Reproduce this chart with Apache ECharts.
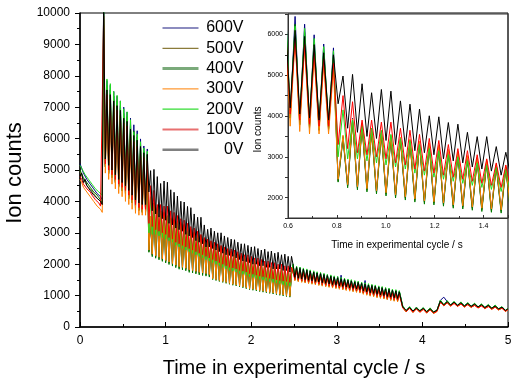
<!DOCTYPE html>
<html><head><meta charset="utf-8">
<script src="https://cdn.jsdelivr.net/npm/echarts@6/dist/echarts.min.js"></script>
<style>html,body{margin:0;padding:0;background:#fff}#c{width:511px;height:379px}</style>
</head><body><div id="c"></div>
<script>
// time in experimental cycle / s (shared by all series)
const time = [0,0.02,0.04,0.06,0.08,0.10,0.12,0.14,0.16,0.18,0.20,0.22,0.24,0.26,
0.276,0.296,0.315,0.335,0.354,0.374,0.394,0.413,0.433,0.452,0.472,0.492,0.511,0.531,0.550,0.570,0.590,0.609,0.629,0.648,0.668,0.688,0.707,0.727,0.746,0.766,0.786,
0.805,0.825,0.844,0.864,0.884,0.903,0.923,0.942,0.962,0.982,1.001,1.021,1.040,1.060,1.080,1.099,1.119,1.138,1.158,1.178,1.197,1.217,1.236,1.256,1.276,1.295,1.315,1.334,1.354,1.374,1.393,1.413,1.432,1.452,1.472,1.491,1.511,
1.530,1.550,1.570,1.589,1.609,1.628,1.648,1.668,1.687,1.707,1.726,1.746,1.766,1.785,1.805,1.824,1.844,1.864,1.883,1.903,1.922,1.942,1.962,1.981,2.001,2.020,2.040,2.060,2.079,2.099,2.118,2.138,2.158,2.177,2.197,2.216,2.236,2.256,2.275,2.295,2.314,2.334,2.354,2.373,2.393,2.412,2.432,2.452,2.471,
2.49,2.51,2.53,2.55,2.57,2.59,2.61,2.63,2.65,2.67,2.69,2.71,2.73,2.75,2.77,2.79,2.81,2.83,2.85,2.87,2.89,2.91,2.93,2.95,2.97,2.99,3.01,3.03,3.05,3.07,3.09,3.11,3.13,3.15,3.17,3.19,3.21,3.23,3.25,3.27,3.29,3.31,3.33,3.35,3.37,3.39,3.41,3.43,3.45,3.47,3.49,3.51,3.53,3.55,3.57,3.59,3.61,3.63,3.65,3.67,3.69,3.71,3.73,
3.77,3.81,3.85,3.89,3.93,3.97,4.01,4.05,4.09,4.13,4.17,
4.21,4.25,4.29,4.33,4.37,4.41,4.45,4.49,4.53,4.57,4.61,4.65,4.69,4.73,4.77,4.81,4.85,4.89,4.93,4.97,5.00];

const v600 = [5200,5150,4900,4950,4700,4750,4550,4600,4400,4450,4250,4300,4150,4050,
10300,5150,7850,4950,7700,4800,7500,4650,7350,4500,7200,4400,7000,4300,6850,4150,6650,4000,6440,3850,6250,3750,5990,3700,5765,3700,5670,
2420,3500,2300,3950,2250,3800,2200,3700,2150,3600,2100,3500,2050,3450,2000,3400,1950,3350,1900,3300,1880,3250,1850,3150,1800,3100,1780,3000,1750,2950,1720,2900,1700,2800,1680,2750,1650,
2700,1570,2650,1540,2600,1510,2550,1480,2500,1450,2450,1420,2400,1390,2350,1370,2300,1340,2250,1310,2200,1280,2150,1250,2100,1230,2050,1210,2000,1190,1980,1170,1950,1150,1900,1130,1870,1110,1850,1090,1820,1070,1800,1050,1770,1030,1750,1010,1720,
1990,1530,1920,1500,1900,1480,1860,1460,1830,1440,1800,1420,1770,1400,1740,1380,1720,1360,1690,1340,1660,1320,1640,1300,1610,1280,1600,1260,1650,1240,1540,1220,1510,1200,1490,1180,1460,1160,1440,1140,1410,1100,1480,1070,1360,1040,1340,1020,1320,990,1290,970,1270,950,1240,920,1220,900,1190,880,1170,860,1140,
670,510,640,490,630,500,610,470,600,460,530,
850,950,810,700,800,690,790,670,760,660,740,640,720,620,700,600,680,570,640,520,590];

const v500 = [4950,4900,4700,4750,4500,4550,4400,4350,4250,4300,4100,4150,4000,3900,
9800,5100,7600,4900,7450,4750,7250,4600,7100,4450,6950,4350,6700,4250,6600,4100,6350,3950,6150,3800,5950,3700,5700,3650,5500,3650,5400,
2400,3450,2280,3850,2230,3750,2180,3600,2120,3550,2080,3450,2030,3400,1980,3350,1930,3300,1880,3250,1860,3200,1830,3100,1780,3050,1760,2950,1730,2900,1700,2850,1680,2750,1660,2700,1630,
2650,1550,2600,1520,2550,1490,2500,1460,2450,1430,2400,1400,2350,1370,2300,1350,2250,1320,2200,1290,2150,1260,2100,1230,2050,1210,2000,1190,1950,1170,1930,1150,1900,1130,1850,1110,1820,1090,1800,1070,1770,1050,1750,1030,1720,1010,1700,990,1680,
1930,1510,1860,1480,1830,1460,1800,1440,1770,1420,1740,1400,1710,1380,1680,1360,1660,1340,1630,1320,1600,1300,1580,1280,1550,1260,1530,1240,1500,1220,1480,1200,1450,1180,1430,1160,1400,1140,1380,1120,1350,1080,1330,1050,1300,1020,1280,1000,1260,970,1230,950,1210,930,1180,900,1160,880,1130,860,1110,840,1080,
620,500,600,480,590,490,570,460,560,450,500,
800,680,780,670,760,660,740,640,720,630,700,610,680,590,660,570,640,550,600,500,560];

const v400 = [5000,4950,4750,4800,4600,4650,4450,4500,4300,4350,4200,4150,4050,3950,
10100,5100,7700,4880,7550,4760,7350,4600,7200,4470,7050,4330,6800,4250,6700,4080,6450,3950,6250,3780,6050,3720,5800,3650,5600,3680,5480,
2380,3470,2240,3870,2190,3770,2140,3620,2090,3570,2040,3470,1990,3420,1940,3370,1890,3320,1840,3270,1820,3220,1790,3120,1740,3070,1720,2970,1690,2920,1660,2870,1640,2770,1620,2720,1590,
2670,1510,2620,1480,2570,1450,2520,1420,2470,1390,2420,1360,2370,1330,2320,1310,2270,1280,2220,1250,2170,1220,2120,1190,2070,1170,2020,1150,1970,1130,1950,1110,1920,1090,1870,1070,1840,1050,1820,1030,1790,1010,1770,990,1740,970,1720,950,1690,
1970,1490,1900,1460,1870,1440,1840,1420,1810,1400,1780,1380,1750,1360,1720,1340,1700,1320,1670,1300,1640,1280,1620,1260,1590,1240,1570,1220,1540,1200,1520,1180,1490,1160,1470,1140,1440,1120,1420,1100,1390,1060,1370,1030,1340,1000,1320,980,1300,950,1270,930,1250,910,1220,880,1200,860,1170,840,1150,820,1120,
650,490,620,470,610,480,600,450,590,440,510,
830,690,810,680,790,670,770,650,750,640,730,620,710,600,690,580,670,560,630,510,570];

const v300 = [4700,4600,4450,4500,4300,4250,4150,4100,4000,3950,3850,3800,3750,3650,
9600,4900,7350,4700,7200,4550,7000,4400,6850,4250,6700,4150,6450,4000,6350,3900,6100,3750,5900,3620,5700,3560,5450,3560,5250,3560,5150,
2450,3530,2320,3930,2270,3830,2220,3680,2170,3630,2120,3530,2070,3480,2020,3430,1970,3380,1920,3330,1900,3280,1870,3180,1820,3130,1800,3030,1770,2980,1740,2930,1720,2830,1700,2780,1670,
2730,1540,2680,1510,2630,1480,2580,1450,2530,1420,2480,1390,2430,1360,2380,1340,2330,1310,2280,1280,2230,1250,2180,1220,2130,1200,2080,1180,2030,1160,2010,1140,1980,1120,1930,1100,1900,1080,1880,1060,1850,1040,1830,1020,1800,1000,1780,980,1750,
1910,1470,1840,1440,1810,1420,1780,1400,1750,1380,1720,1360,1690,1340,1660,1320,1640,1300,1610,1280,1580,1260,1560,1240,1530,1220,1510,1200,1480,1180,1460,1160,1430,1140,1410,1120,1380,1100,1360,1080,1330,1040,1310,1010,1280,980,1260,960,1240,930,1210,910,1190,890,1160,860,1140,840,1110,820,1090,800,1060,
620,480,600,460,580,470,570,440,560,430,490,
800,670,780,660,760,650,740,630,720,620,700,600,680,580,660,560,640,540,600,490,550];

const v200 = [5150,5100,4950,4850,4800,4700,4650,4550,4500,4400,4350,4300,4250,4200,
10200,5300,7900,5100,7750,4950,7500,4800,7380,4650,7200,4550,6950,4450,6850,4300,6600,4150,6200,4000,6150,3900,5900,3850,5700,3850,5600,
3000,4150,2950,3900,2950,3750,2900,3700,2850,3650,2800,3550,2750,3450,2700,3400,2600,3300,2550,3200,2500,3150,2450,3050,2400,3000,2350,2900,2300,2850,2250,2800,2200,2750,2150,2700,2100,
2650,2050,2600,2000,2550,1950,2500,1900,2450,1850,2400,1800,2380,1780,2350,1750,2300,1700,2250,1680,2200,1650,2180,1600,2150,1580,2100,1550,2080,1520,2050,1500,2000,1480,1980,1450,1950,1420,1920,1400,1900,1380,1870,1350,1850,1330,1820,1300,1800,
2010,1550,1940,1520,1910,1500,1880,1480,1850,1460,1820,1440,1790,1420,1760,1400,1740,1380,1710,1360,1680,1340,1660,1320,1630,1300,1610,1280,1580,1260,1560,1240,1530,1220,1510,1200,1480,1180,1460,1160,1430,1120,1410,1090,1380,1060,1360,1040,1340,1010,1310,990,1290,970,1260,940,1240,920,1210,900,1190,880,1160,
680,520,650,510,630,520,620,490,610,480,540,
860,710,840,700,820,690,800,670,780,660,760,640,740,620,720,600,700,580,650,530,600];

const v100 = [4800,4700,4550,4600,4400,4350,4300,4200,4150,4050,4000,3950,3850,3800,
9900,5200,7400,5000,7250,4850,7050,4700,6900,4550,6750,4450,6500,4350,6400,4200,6150,4050,5900,3900,5750,3800,5550,3750,5400,3750,5300,
3300,4500,3200,4350,3100,3900,3050,3900,3000,3850,2950,3850,2850,3700,2800,3650,2700,3550,2650,3450,2600,3400,2550,3300,2500,3200,2450,3150,2400,3050,2350,2950,2300,2850,2250,2800,2200,
2750,2150,2700,2100,2650,2050,2600,2000,2550,1950,2500,1900,2480,1880,2450,1850,2400,1800,2350,1780,2300,1750,2300,1700,2250,1680,2200,1650,2200,1620,2150,1600,2100,1580,2100,1550,2050,1530,2050,1500,2000,1480,2000,1460,1950,1450,1950,1420,1900,
1890,1520,1820,1490,1790,1470,1760,1450,1730,1430,1700,1410,1670,1390,1640,1370,1620,1350,1590,1330,1560,1310,1540,1290,1510,1270,1490,1250,1460,1230,1440,1210,1410,1190,1390,1170,1360,1150,1340,1130,1310,1090,1290,1060,1260,1030,1240,1010,1220,980,1190,960,1170,940,1140,910,1120,890,1090,870,1070,850,1040,
610,490,590,470,580,470,560,450,550,440,500,
790,680,770,670,750,660,730,640,710,630,690,610,670,590,650,570,630,550,600,500,560];

const v0 = [4800,4900,4600,4700,4500,4450,4350,4400,4200,4250,4100,4050,4000,3900,
10500,5350,7550,5150,7400,5000,7200,4850,7050,4700,6900,4600,6650,4500,6550,4350,6300,4200,6100,4050,5950,3950,5750,3900,5550,3900,5500,
4300,4980,3700,5020,3600,4790,3500,4570,3450,4650,3400,4610,3300,4370,3250,4290,3150,4170,3100,4005,3050,3980,2950,3840,2900,3800,2850,3600,2750,3495,2700,3495,2650,3250,2550,3110,2550,
3150,2500,3050,2450,3000,2400,3000,2350,2900,2300,2850,2280,2800,2250,2780,2200,2700,2150,2650,2100,2650,2080,2600,2050,2550,2000,2560,2000,2500,1950,2450,1950,2480,1900,2400,1900,2420,1850,2350,1850,2380,1850,2300,1800,2320,1800,2250,1750,2250,
1970,1580,1900,1550,1870,1530,1840,1510,1810,1490,1780,1470,1750,1450,1720,1430,1700,1410,1670,1390,1640,1370,1620,1350,1590,1330,1570,1310,1540,1290,1520,1270,1490,1250,1470,1230,1440,1210,1420,1190,1390,1150,1370,1120,1340,1090,1320,1070,1300,1040,1270,1020,1250,1000,1220,970,1200,950,1170,930,1150,910,1120,
640,530,620,510,600,520,590,490,580,480,530,
830,710,810,700,790,690,770,670,750,660,730,640,710,620,690,600,670,580,630,530,580];

const seriesNames = ['600V','500V','400V','300V','200V','100V','0V'];
const seriesValues = [v600, v500, v400, v300, v200, v100, v0];
const mainXTicks = [0,1,2,3,4,5];
const insetXRange = [0.6, 1.5];
const insetYRange = [1500, 6500];

seriesValues.forEach((v,k)=>{ if (v.length !== time.length) throw new Error(seriesNames[k]+' has '+v.length+' values, time has '+time.length); });

const colors = ['#000080','#8B7B2A','#007A00','#FF8000','#22DD22','#FF0000','#000000'];
const legendLine = [
  {color:'#1a1a80', width:1.2}, {color:'#8B7B3A', width:1.2}, {color:'#7aaa7a', width:3},
  {color:'#FF9933', width:1.2}, {color:'#33dd33', width:1.2}, {color:'#e87070', width:2}, {color:'#808080', width:2.5}];
const FONT = '"Liberation Sans", Arial, sans-serif';

const mk = (gi) => seriesValues.map((v,k)=>({
  name: seriesNames[k], type:'line', xAxisIndex: gi, yAxisIndex: gi,
  data: time.map((t,i)=>[t, v[i]]), symbol:'none', showSymbol:false, clip:true,
  lineStyle:{width:1, color:colors[k]}, itemStyle:{color:colors[k]}, animation:false,
  emphasis:{disabled:true}
}));

const chart = echarts.init(document.getElementById('c'), null, {renderer:'canvas'});
chart.setOption({
  animation:false,
  backgroundColor:'#fff',
  grid:[
    {left:80, top:13, width:428, height:314, show:true, borderColor:'#000', borderWidth:1, containLabel:false, outerBoundsMode:'none'},
    {left:288, top:14, width:220, height:204, show:true, borderColor:'#333', borderWidth:1, containLabel:false, outerBoundsMode:'none'}
  ],
  xAxis:[
    {gridIndex:0, type:'value', min:mainXTicks[0], max:mainXTicks[mainXTicks.length-1], interval:1,
     axisLine:{lineStyle:{color:'#000', width:1.5}}, axisTick:{inside:true, length:5, lineStyle:{color:'#000'}},
     minorTick:{show:true, splitNumber:2, length:3, lineStyle:{color:'#000'}},
     axisLabel:{fontSize:12, fontFamily:FONT, color:'#000', margin:8, formatter:v=>String(v)}, splitLine:{show:false}},
    {gridIndex:1, type:'value', min:insetXRange[0], max:insetXRange[1], interval:0.2,
     axisLine:{lineStyle:{color:'#333', width:1}}, axisTick:{inside:true, length:3, lineStyle:{color:'#333'}},
     minorTick:{show:true, splitNumber:2, length:2, lineStyle:{color:'#333'}},
     axisLabel:{fontSize:7, fontFamily:FONT, color:'#000', margin:5, showMaxLabel:false, formatter:v=>v.toFixed(1)},
     splitLine:{show:false}}
  ],
  yAxis:[
    {gridIndex:0, type:'value', min:0, max:10000, interval:1000,
     axisLine:{lineStyle:{color:'#000', width:1.5}}, axisTick:{inside:false, length:5, lineStyle:{color:'#000'}},
     minorTick:{show:true, splitNumber:2, length:3, lineStyle:{color:'#000'}},
     axisLabel:{fontSize:12, fontFamily:FONT, color:'#000', margin:10, formatter:v=>String(v)}, splitLine:{show:false}},
    {gridIndex:1, type:'value', min:insetYRange[0], max:insetYRange[1], interval:500,
     axisLine:{lineStyle:{color:'#333', width:1}}, axisTick:{inside:false, length:3, lineStyle:{color:'#333'}},
     axisLabel:{fontSize:7, fontFamily:FONT, color:'#000', margin:5, formatter:v=> (v % 1000 === 0 ? String(v) : '')},
     splitLine:{show:false}}
  ],
  legend:{
    orient:'vertical', left:161, top:20, padding:0, itemWidth:36, itemHeight:18, itemGap:4.3,
    data: seriesNames.map((n,k)=>({name:n, lineStyle:legendLine[k], itemStyle:{opacity:0}})),
    formatter:'{a|{name}}',
    textStyle:{fontSize:16, fontFamily:FONT, color:'#000', rich:{a:{width:40, align:'right', fontSize:16, fontFamily:FONT, color:'#000'}}},
    selectedMode:false
  },
  graphic:[
    {type:'text', x:294, y:368, style:{text:'Time in experimental cycle / s', fontSize:20, fontFamily:FONT, fill:'#000', align:'center', verticalAlign:'middle'}},
    {type:'text', x:15, y:173, rotation:Math.PI/2, style:{text:'Ion counts', fontSize:22, fontFamily:FONT, fill:'#000', align:'center', verticalAlign:'middle'}},
    {type:'text', x:397, y:245.5, style:{text:'Time in experimental cycle / s', fontSize:10, fontFamily:FONT, fill:'#000', align:'center', verticalAlign:'middle'}},
    {type:'text', x:258, y:129.5, rotation:Math.PI/2, style:{text:'Ion counts', fontSize:10, fontFamily:FONT, fill:'#000', align:'center', verticalAlign:'middle'}}
  ],
  series: mk(0).concat(mk(1))
});
</script></body></html>
